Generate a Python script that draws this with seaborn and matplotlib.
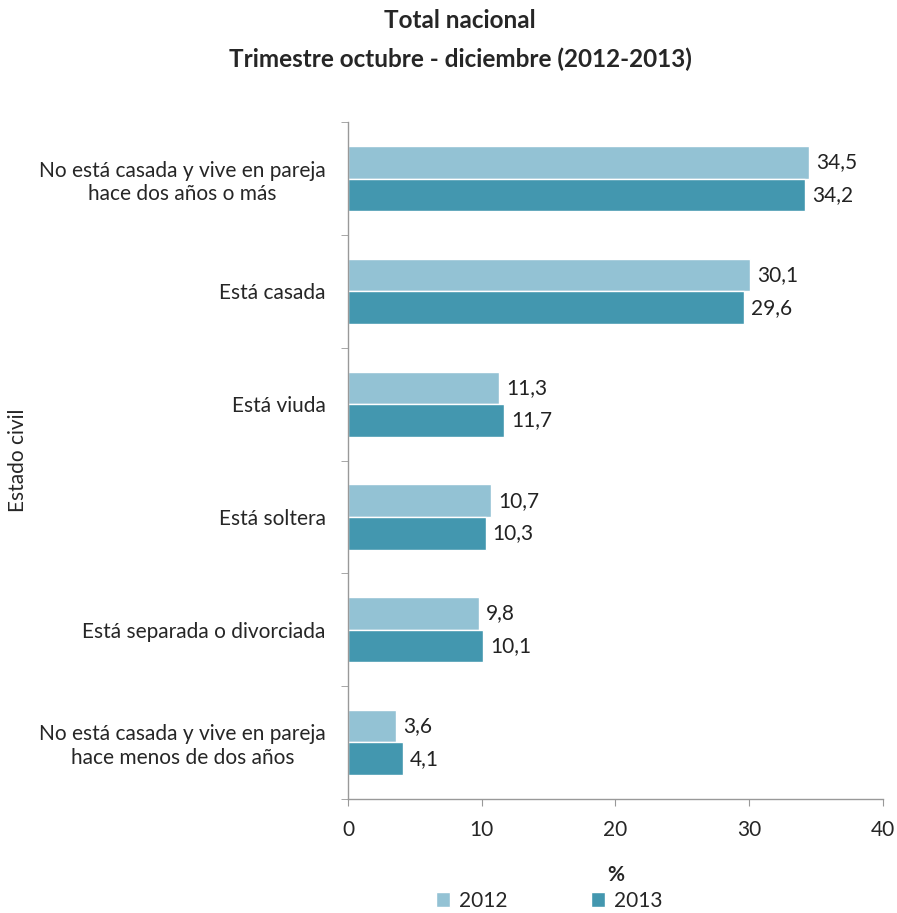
import pandas as pd
import matplotlib.pyplot as plt
import seaborn as sns
from matplotlib.ticker import FixedLocator

# chart data
CATEGORIES = [
    "No está casada y vive en pareja\nhace dos años o más",
    "Está casada",
    "Está viuda",
    "Está soltera",
    "Está separada o divorciada",
    "No está casada y vive en pareja\nhace menos de dos años",
]
YEARS = ["2012", "2013"]
VALUES_2012 = [34.5, 30.1, 11.3, 10.7, 9.8, 3.6]
VALUES_2013 = [34.2, 29.6, 11.7, 10.3, 10.1, 4.1]
X_TICKS = [0, 10, 20, 30, 40]

COLORS = ["#93C2D4", "#4397AF"]

df = pd.DataFrame({
    "estado": CATEGORIES * 2,
    "year": [YEARS[0]] * len(CATEGORIES) + [YEARS[1]] * len(CATEGORIES),
    "value": VALUES_2012 + VALUES_2013,
})

sns.set_style("white")
plt.rcParams["font.family"] = ["Lato", "DejaVu Sans"]

fig = plt.figure(figsize=(8.97, 9.13), dpi=100)
ax = fig.add_axes([0.388, 0.125, 0.596, 0.741])

sns.barplot(data=df, y="estado", x="value", hue="year", order=CATEGORIES,
            hue_order=YEARS, palette=COLORS, width=0.58, orient="h",
            saturation=1, ax=ax, legend=True)

# value labels with comma decimals
for cont in ax.containers:
    labels = [f"{v:.1f}".replace(".", ",") for v in cont.datavalues]
    ax.bar_label(cont, labels=labels, padding=5, fontsize=15, color="#222222")

ax.set_xlim(0, 40)
ax.set_xticks(X_TICKS)
ax.set_ylim(len(CATEGORIES) - 0.5, -0.5)
ax.tick_params(axis="x", labelsize=15, length=5, color="#999999", direction="out",
               bottom=True, pad=10)
ax.tick_params(axis="y", which="major", length=0, labelsize=15, pad=16)
for lab in ax.get_yticklabels():
    lab.set_multialignment("center")
ax.yaxis.set_minor_locator(FixedLocator([i - 0.5 for i in range(len(CATEGORIES) + 1)]))
ax.tick_params(axis="y", which="minor", length=5, color="#999999", left=True)

for side in ["top", "right"]:
    ax.spines[side].set_visible(False)
for side in ["left", "bottom"]:
    ax.spines[side].set_color("#999999")
    ax.spines[side].set_linewidth(1)

ax.set_xlabel("%", fontsize=15, fontweight="bold", labelpad=18)
ax.set_ylabel("Estado civil", fontsize=15)
ax.yaxis.set_label_coords(-0.598, 0.5)

handles, labels = ax.get_legend_handles_labels()
ax.get_legend().remove()
fig.legend(handles, labels, loc="lower center", ncol=2, frameon=False,
           bbox_to_anchor=(0.612, -0.018), fontsize=15, handlelength=0.7,
           handleheight=0.7, columnspacing=4.0, handletextpad=0.4)

fig.text(0.513, 0.990, "Total nacional", ha="center", va="top",
         fontsize=17.5, fontweight="bold")
fig.text(0.513, 0.948, "Trimestre octubre - diciembre (2012-2013)", ha="center",
         va="top", fontsize=17.5, fontweight="bold")

fig.savefig("out.png", dpi=100)
